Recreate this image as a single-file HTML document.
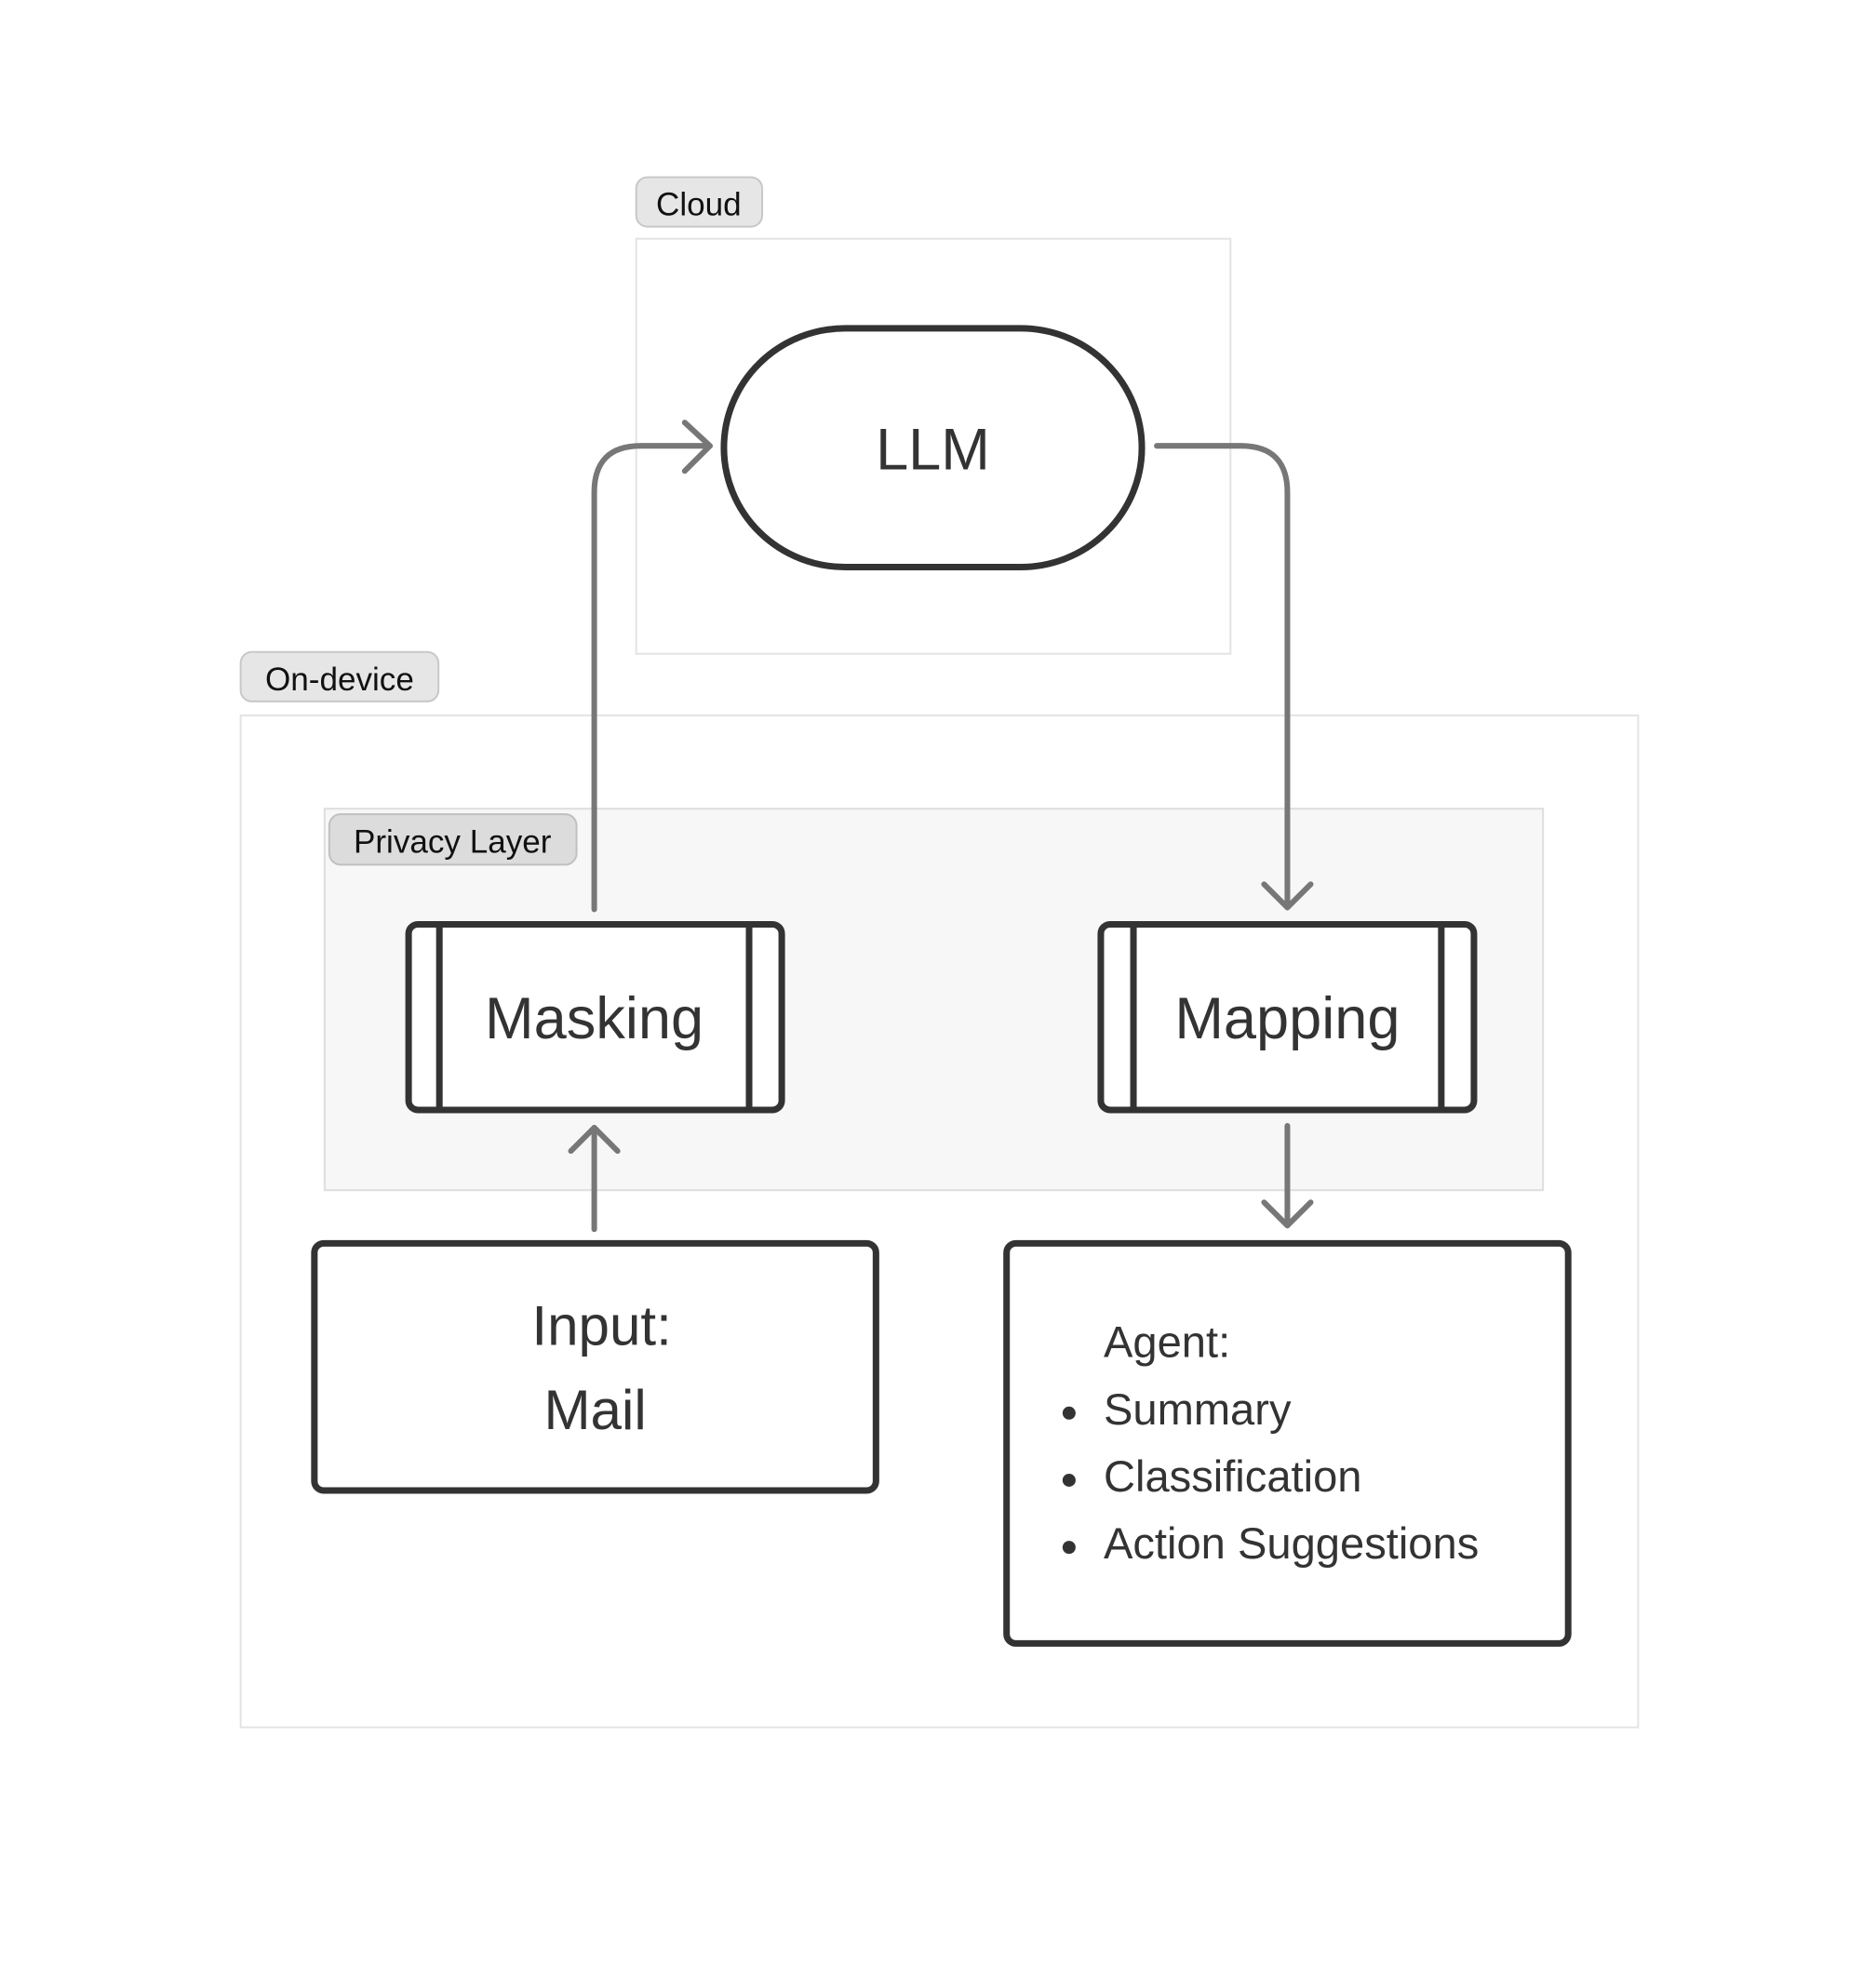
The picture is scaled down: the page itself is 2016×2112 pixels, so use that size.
<!DOCTYPE html>
<html><head><meta charset="utf-8"><style>
html,body{margin:0;padding:0;background:#fff;}
svg{display:block;}
text{font-family:"Liberation Sans",sans-serif;fill:#333;}
</style></head><body>
<svg width="2016" height="2112" viewBox="0 0 2016 2112" xmlns="http://www.w3.org/2000/svg">
<g transform="translate(1,1) scale(1.0025)">
<!-- Cloud -->
<rect x="681" y="255" width="637" height="445" fill="#fff" stroke="#e3e3e3" stroke-width="2"/>
<rect x="681" y="189" width="135" height="53" rx="12" fill="#e6e6e6" stroke="#c8c8c8" stroke-width="2"/>
<text x="748" y="230" font-size="35" text-anchor="middle" style="fill:#111">Cloud</text>
<!-- On-device -->
<rect x="257" y="766" width="1498" height="1085" fill="#fff" stroke="#e3e3e3" stroke-width="2"/>
<rect x="257" y="698" width="212" height="53" rx="12" fill="#e6e6e6" stroke="#c8c8c8" stroke-width="2"/>
<text x="363" y="739" font-size="35" text-anchor="middle" style="fill:#111">On-device</text>
<!-- Privacy -->
<rect x="347" y="866" width="1306" height="409" fill="#f7f7f7" stroke="#dedede" stroke-width="2"/>
<rect x="352" y="872" width="265" height="54" rx="12" fill="#dcdcdc" stroke="#c0c0c0" stroke-width="2"/>
<text x="484" y="913" font-size="35" text-anchor="middle" style="fill:#111">Privacy Layer</text>
<!-- LLM -->
<rect x="775" y="351" width="448" height="256" rx="130" ry="128" fill="#fff" stroke="#333" stroke-width="7"/>
<text x="999" y="502" font-size="63" text-anchor="middle">LLM</text>
<!-- connectors -->
<g fill="none" stroke="#777" stroke-width="6" stroke-linecap="round" stroke-linejoin="round">
<path d="M636 974 V527 Q636 477 686 477 H760"/>
<path d="M733 452 L760 477 L733 504"/>
<path d="M1239 477 H1329 Q1379 477 1379 527 V972"/>
<path d="M1354 947 L1379 972 L1404 947"/>
<path d="M1379 1206 V1313"/>
<path d="M1354 1288 L1379 1313 L1404 1288"/>
<path d="M636 1317 V1208"/>
<path d="M611 1233 L636 1208 L661 1233"/>
</g>
<!-- Masking -->
<rect x="437" y="990" width="400" height="199" rx="10" fill="#fff" stroke="#333" stroke-width="7"/>
<line x1="470" y1="990" x2="470" y2="1189" stroke="#333" stroke-width="7"/>
<line x1="802" y1="990" x2="802" y2="1189" stroke="#333" stroke-width="7"/>
<text x="636" y="1112" font-size="63" text-anchor="middle">Masking</text>
<!-- Mapping -->
<rect x="1179" y="990" width="400" height="199" rx="10" fill="#fff" stroke="#333" stroke-width="7"/>
<line x1="1214" y1="990" x2="1214" y2="1189" stroke="#333" stroke-width="7"/>
<line x1="1544" y1="990" x2="1544" y2="1189" stroke="#333" stroke-width="7"/>
<text x="1379" y="1112" font-size="63" text-anchor="middle">Mapping</text>
<!-- Input -->
<rect x="336" y="1332" width="602" height="265" rx="10" fill="#fff" stroke="#333" stroke-width="7"/>
<text x="644" y="1441" font-size="60" text-anchor="middle">Input:</text>
<text x="637" y="1531" font-size="60" text-anchor="middle">Mail</text>
<!-- Agent -->
<rect x="1078" y="1332" width="602" height="429" rx="10" fill="#fff" stroke="#333" stroke-width="7"/>
<text x="1182" y="1454" font-size="47">Agent:</text>
<circle cx="1145" cy="1514" r="7" fill="#333"/>
<text x="1182" y="1526" font-size="47">Summary</text>
<circle cx="1145" cy="1586" r="7" fill="#333"/>
<text x="1182" y="1598" font-size="47">Classification</text>
<circle cx="1145" cy="1658" r="7" fill="#333"/>
<text x="1182" y="1670" font-size="47">Action Suggestions</text>
</g>
</svg>
</body></html>
